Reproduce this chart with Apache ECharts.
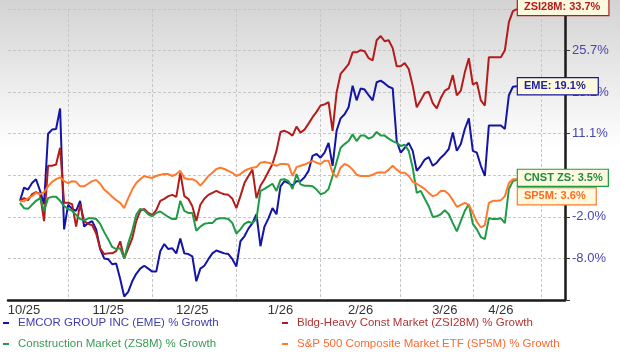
<!DOCTYPE html>
<html lang="en">
<head>
<meta charset="UTF-8">
<title>EME vs market growth</title>
<script src="https://cdn.jsdelivr.net/npm/echarts@6/dist/echarts.min.js"></script>
<style>
  body { margin: 0; background: #fff; }
  #chart { width: 620px; height: 355px; }
</style>
</head>
<body>
<div id="chart"></div>
<script>
// one slot per trading day, data starts at slot 3
var slotCount = 140;
var firstSlot = 3;
var xLabels = ['10/25', '11/25', '12/25', '1/26', '2/26', '3/26', '4/26'];
var xLabelSlots = [4, 25, 46, 68, 88, 109, 123];
var xGridSlots = [15, 36, 57, 78, 98, 116, 133];

// y axis is log spaced (ratio per gridline), labels bottom -> top
var yBase = -8.0;
var yRatio = 1.0643;
var yTickLabels = ['', '-8.0%', '-2.0%', '4.3%', '11.1%', '18.2%', '25.7%', ''];

// % growth
var eme = [
  0.3, 2.3, 2.0, 3.0, 3.6, 1.8, -0.2, 10.9, 11.6, 11.7,
  15.2, -3.9, -0.3, -0.9, -1.2, 0.3, -3.5, -3.0, -2.7, -3.9,
  -6.7, -8.0, -8.1, -8.8, -8.7, -10.8, -13.1, -12.5, -11.1, -10.1,
  -9.4, -9.0, -9.4, -9.8, -9.8, -7.0, -6.0, -6.7, -6.6, -7.3,
  -5.2, -7.3, -7.4, -7.7, -11.1, -9.4, -9.0, -8.1, -7.3, -6.9,
  -7.1, -7.3, -7.4, -8.1, -9.1, -5.6, -4.9, -3.8, -3.0, -1.7,
  -6.3, -3.5, -2.3, -0.8, -1.7, 2.5, 3.3, 3.0, 2.6, 3.3,
  3.3, 3.9, 4.9, 7.3, 7.6, 7.0, 7.8, 9.4, 5.7, 11.4,
  13.5, 14.2, 15.4, 19.2, 16.6, 18.7, 18.5, 17.5, 16.6, 19.8,
  20.1, 19.6, 19.0, 18.7, 9.7, 7.8, 8.6, 9.4, 8.1, 4.9,
  5.7, 6.7, 7.1, 5.7, 6.2, 7.0, 7.6, 8.4, 11.1, 8.1,
  9.2, 11.7, 13.5, 8.1, 7.8, 5.7, 4.1, 12.3, 12.3, 12.3,
  12.3, 11.7, 17.5, 19.0, 19.1
];
var zsi28m = [
  0.3, 0.7, 0.4, 1.3, 1.6, 1.3, -2.7, 5.7, 5.7, 5.9,
  8.6, 0.0, 0.0, -0.2, -3.5, -0.2, -2.7, -3.1, -3.3, -4.5,
  -6.6, -7.4, -7.3, -7.3, -7.0, -5.6, -8.0, -6.6, -5.2, -2.7,
  -1.2, -0.9, -1.5, -1.8, -1.1, 0.3, 0.6, 1.0, 1.2, 0.9,
  4.6, 1.0, 0.6, -0.5, -2.7, -0.3, 0.6, 1.2, 1.5, 1.8,
  1.5, 1.3, 1.2, 0.6, -0.8, 1.0, 3.0, 4.1, 5.1, 0.7,
  2.6, 3.6, 4.8, 6.0, 8.1, 11.2, 11.4, 11.1, 10.6, 12.1,
  11.1, 11.6, 12.6, 13.7, 14.6, 15.7, 15.9, 16.3, 11.4, 18.0,
  21.3, 22.2, 23.1, 25.3, 25.3, 25.7, 25.5, 24.2, 23.8, 27.6,
  28.4, 27.4, 27.6, 26.1, 22.7, 22.7, 23.3, 22.2, 19.2, 15.4,
  16.6, 17.9, 18.1, 16.1, 15.2, 17.0, 18.3, 18.7, 21.1, 17.5,
  18.3, 21.6, 24.2, 19.4, 19.8, 16.6, 15.7, 24.4, 24.4, 24.4,
  24.4, 25.7, 31.1, 33.3, 33.7
];
var zs8m = [
  0.0, -0.8, -0.9, -0.3, 0.3, 0.7, -1.2, 0.7, 0.9, 0.9,
  0.3, -0.5, -0.9, -1.2, -1.8, -2.4, -2.6, -2.3, -2.3, -2.4,
  -3.1, -4.3, -5.3, -6.4, -6.7, -6.6, -8.0, -5.9, -4.1, -1.8,
  -0.9, -1.1, -1.7, -2.0, -1.5, -1.3, -1.7, -2.1, -2.4, -2.4,
  0.3, -1.2, -1.5, -1.5, -4.1, -3.5, -3.1, -3.0, -3.0, -2.4,
  -2.3, -2.3, -2.4, -3.0, -4.5, -3.9, -3.1, -2.8, -3.0, -2.4,
  1.8, 2.1, 2.5, 2.9, 1.8, 3.5, 3.6, 3.3, 2.1, 4.4,
  2.8, 2.6, 2.6, 2.5, 2.0, 1.3, 1.5, 2.1, 4.1, 6.3,
  8.6, 9.2, 9.7, 10.8, 9.7, 10.6, 10.6, 10.1, 10.4, 11.2,
  10.6, 10.6, 10.1, 9.7, 9.4, 8.9, 9.1, 8.1, 5.4, 1.5,
  1.8, 0.6, -0.5, -2.1, -2.0, -1.7, -1.1, -1.7, -3.0, -4.2,
  -2.7, -1.2, -0.2, -3.1, -3.9, -5.0, -5.3, -2.3, -2.4, -2.4,
  -2.3, -3.0, 2.1, 3.3, 3.5
];
var sp5m = [
  0.3, 0.2, 0.7, 1.0, 1.5, 1.3, 1.6, 2.5, 3.2, 3.6,
  3.9, 3.3, 3.0, 3.3, 3.2, 2.5, 2.5, 2.9, 3.3, 3.5,
  2.9, 2.0, 1.5, 0.9, 0.4, 0.0, -0.8, 0.7, 2.0, 3.0,
  3.6, 4.1, 3.9, 3.8, 4.1, 4.3, 4.4, 4.4, 4.1, 4.4,
  4.9, 3.8, 3.6, 3.6, 3.3, 2.6, 3.3, 4.1, 4.6, 5.2,
  5.4, 5.2, 4.9, 4.6, 4.1, 4.4, 4.9, 5.2, 5.4, 5.5,
  6.2, 6.3, 6.2, 6.0, 5.7, 6.0, 6.0, 5.9, 4.1, 5.5,
  5.7, 5.9, 6.2, 6.5, 6.2, 6.0, 6.5, 6.5, 4.6, 3.9,
  5.4, 6.0, 5.7, 5.1, 4.3, 4.1, 4.1, 4.1, 4.3, 4.6,
  4.7, 4.6, 5.1, 5.7, 5.1, 4.6, 4.6, 4.1, 3.2, 2.9,
  2.5, 2.1, 1.5, 1.0, 1.2, 1.8, 1.8, 1.3, 0.4, -0.6,
  -0.3, 0.0, -0.3, -1.5, -2.8, -3.6, -3.3, 0.0, 0.3, 0.3,
  0.4, 1.0, 3.0, 3.6, 3.6
];

var chart = echarts.init(document.getElementById('chart'));
var font = 'Liberation Sans, Arial, sans-serif';

function toAxis(p) {
    return Math.log((100 + p) / (100 + yBase)) / Math.log(yRatio);
}

function padded(values) {
    var out = [];
    for (var i = 0; i < firstSlot; i++) out.push(null);
    return out.concat(values.map(toAxis));
}

var categories = [];
for (var i = 0; i < slotCount; i++) {
    var k = xLabelSlots.indexOf(i);
    categories.push(k >= 0 ? xLabels[k] : '');
}

function makeSeries(name, tag, values, color, textColor, offset, pad) {
    return {
        name: name,
        type: 'line',
        data: padded(values),
        symbol: 'none',
        lineStyle: { width: 2, color: color },
        itemStyle: { color: color },
        emphasis: { disabled: true },
        endLabel: {
            show: true,
            distance: 1,
            offset: offset,
            formatter: function () {
                return tag + ': ' + values[values.length - 1].toFixed(1) + '%';
            },
            color: textColor,
            fontFamily: font,
            fontWeight: 'bold',
            fontSize: 11,
            backgroundColor: '#fdf9df',
            borderColor: color,
            borderWidth: 1.2,
            padding: pad
        }
    };
}

function makeLegend(left, items) {
    return {
        orient: 'vertical',
        left: left, top: 317,
        padding: 0,
        itemWidth: 6, itemHeight: 2, itemGap: 9,
        icon: 'rect',
        textStyle: { fontFamily: font, fontSize: 11.5, padding: [0, 0, 0, 4] },
        data: items
    };
}

var option = {
    animation: false,
    backgroundColor: {
        type: 'linear', x: 0, y: 0, x2: 0, y2: 1,
        colorStops: [
            { offset: 0, color: '#d3d3d3' },
            { offset: 0.42, color: '#ffffff' },
            { offset: 1, color: '#ffffff' }
        ]
    },
    grid: { left: 8, right: 55, top: 9, bottom: 55 },
    legend: [
        makeLegend(3, [
            { name: 'EMCOR GROUP INC (EME) % Growth', textStyle: { color: '#3d3db4' } },
            { name: 'Construction Market (ZS8M) % Growth', textStyle: { color: '#3a9a55' } }
        ]),
        makeLegend(282, [
            { name: 'Bldg-Heavy Const Market (ZSI28M) % Growth', textStyle: { color: '#b03434' } },
            { name: 'S&P 500 Composite Market ETF (SP5M) % Growth', textStyle: { color: '#ff6a30' } }
        ])
    ],
    xAxis: {
        type: 'category',
        data: categories,
        boundaryGap: false,
        axisLine: { onZero: false, lineStyle: { color: '#1a1a1a', width: 2.5 } },
        axisTick: { show: false },
        axisLabel: {
            interval: 0,
            color: '#333',
            fontFamily: font,
            fontSize: 13,
            margin: 4
        },
        splitLine: {
            show: true,
            interval: function (index) { return xGridSlots.indexOf(index) >= 0; },
            lineStyle: { color: '#c6c6c6', type: [3, 2], width: 1 }
        }
    },
    yAxis: {
        type: 'value',
        position: 'right',
        min: -1,
        max: 6,
        interval: 1,
        axisLine: { show: true, onZero: false, lineStyle: { color: '#1a1a1a', width: 2.5 } },
        axisTick: { show: true, length: 5, lineStyle: { color: '#333' } },
        axisLabel: {
            color: '#4646b4',
            fontFamily: font,
            fontSize: 13,
            margin: 7,
            formatter: function (v) { return yTickLabels[Math.round(v) + 1] || ''; }
        },
        splitLine: { lineStyle: { color: '#c6c6c6', type: [3, 2], width: 1 } }
    },
    series: [
        makeSeries('EMCOR GROUP INC (EME) % Growth', 'EME', eme, '#1414a6', '#2020a0', [0, 0], [3, 12, 2, 6]),
        makeSeries('Bldg-Heavy Const Market (ZSI28M) % Growth', 'ZSI28M', zsi28m, '#b41c1c', '#b41c1c', [0, -2], [3, 8, 2, 6]),
        makeSeries('Construction Market (ZS8M) % Growth', 'CNST ZS', zs8m, '#1f9a45', '#1f8a40', [0, -2], [3, 5, 2, 6]),
        makeSeries('S&P 500 Composite Market ETF (SP5M) % Growth', 'SP5M', sp5m, '#ff7a2e', '#ff6a20', [0, 17], [3, 10, 2, 6])
    ]
};

chart.setOption(option);
</script>
</body>
</html>
